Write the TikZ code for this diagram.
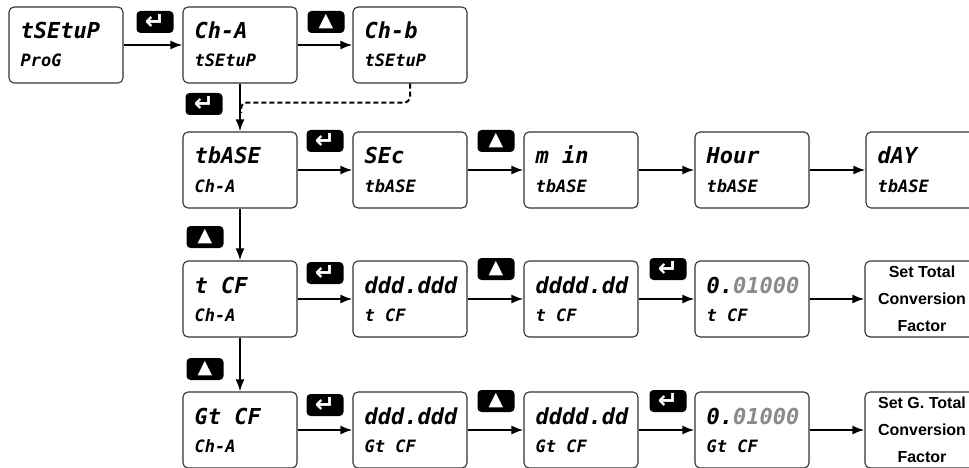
\documentclass[tikz,border=0pt]{standalone}
\usepackage{fontspec}
\usepackage{xcolor}
\usepackage{tikz}
\usetikzlibrary{arrows.meta}
\newfontfamily\segfont{DejaVu Sans Mono}
\newfontfamily\keyfont{DejaVu Sans}
\newfontfamily\plainfont{Liberation Sans}
\definecolor{dimseg}{HTML}{8A8A8A}
\definecolor{frame}{HTML}{333333}
\tikzset{
  disp/.style={draw=frame,line width=1.1pt,rounded corners=5pt,fill=white,
    minimum width=114pt,minimum height=76pt,inner sep=0pt},
  segbig/.style={font=\segfont\bfseries\itshape\fontsize{22}{22}\selectfont,inner sep=0pt},
  segsmall/.style={font=\segfont\bfseries\itshape\fontsize{17}{17}\selectfont,inner sep=0pt},
  keyb/.style={fill=black,text=white,rounded corners=4pt,minimum width=37pt,
    minimum height=22pt,inner sep=0pt},
  entersym/.style={font=\keyfont\bfseries\fontsize{24}{24}\selectfont},
  upsym/.style={font=\keyfont\fontsize{19}{19}\selectfont},
  flow/.style={line width=2pt,-{Latex[length=12pt,width=9pt]}},
  settext/.style={font=\plainfont\bfseries\fontsize{16}{27}\selectfont,align=center}
}
\newcommand{\dispbox}[5]{%
  \node[disp] (#1) at (#2,#3) {};
  \node[segbig,anchor=base west] (#1top) at ([xshift=12pt,yshift=6pt]#1.west) {#4};
  \node[segsmall,anchor=base west] (#1bot) at ([xshift=12pt,yshift=-22pt]#1.west) {#5};}
\newcommand{\enterkey}[3]{\node[keyb,entersym] (#1) at (#2,#3) {↵};}
\newcommand{\upkey}[3]{\node[keyb,upsym] (#1) at (#2,#3) {▲};}

\begin{document}
\begin{tikzpicture}[x=1pt,y=-1pt]
  \useasboundingbox (0,0) rectangle (969,468);
  % row 1
  \dispbox{prog}{66}{45}{tSEtuP}{ProG}
  \dispbox{cha}{240}{45}{Ch-A}{tSEtuP}
  \dispbox{chb}{410}{45}{Ch-b}{tSEtuP}
  \enterkey{ke1}{155}{22}\upkey{ku1}{326}{22}
  \draw[flow] (prog) -- (cha);
  \draw[flow] (cha) -- (chb);
  % row 2: time base
  \dispbox{tbase}{240}{170}{tbASE}{Ch-A}
  \dispbox{sec}{410}{170}{SEc}{tbASE}
  \dispbox{min}{581}{170}{m in}{tbASE}
  \dispbox{hour}{752}{170}{Hour}{tbASE}
  \dispbox{day}{923}{170}{dAY}{tbASE}
  \enterkey{ke2}{204}{104}
  \enterkey{ke3}{325}{141}\upkey{ku2}{496}{141}
  \draw[flow] (cha) -- (tbase);
  \coordinate (dashjoin) at (241,113);
  \draw[line width=2pt,dash pattern=on 5pt off 3pt,rounded corners=6pt]
    (chb.south) -- ++(0,19) -| (dashjoin);
  \draw[flow] (tbase) -- (sec);
  \draw[flow] (sec) -- (min);
  \draw[flow] (min) -- (hour);
  \draw[flow] (hour) -- (day);
  % row 3: total conversion factor
  \dispbox{tcf}{240}{299}{t CF}{Ch-A}
  \dispbox{tdd}{410}{299}{ddd.ddd}{t CF}
  \dispbox{tddb}{581}{299}{dddd.dd}{t CF}
  \dispbox{tval}{752}{299}{0.\textcolor{dimseg}{01000}}{t CF}
  \node[disp,settext] (tset) at (922,299) {Set Total\\Conversion\\Factor};
  \upkey{ku3}{205}{237}
  \enterkey{ke4}{325}{273}\upkey{ku4}{496}{269}\enterkey{ke5}{668}{269}
  \draw[flow] (tbase) -- (tcf);
  \draw[flow] (tcf) -- (tdd);
  \draw[flow] (tdd) -- (tddb);
  \draw[flow] (tddb) -- (tval);
  \draw[flow] (tval) -- (tset);
  % row 4: grand total conversion factor
  \dispbox{gcf}{240}{430}{Gt CF}{Ch-A}
  \dispbox{gdd}{410}{430}{ddd.ddd}{Gt CF}
  \dispbox{gddb}{581}{430}{dddd.dd}{Gt CF}
  \dispbox{gval}{752}{430}{0.\textcolor{dimseg}{01000}}{Gt CF}
  \node[disp,settext] (gset) at (922,430) {Set G. Total\\Conversion\\Factor};
  \upkey{ku5}{205}{369}
  \enterkey{ke6}{325}{405}\upkey{ku6}{496}{401}\enterkey{ke7}{668}{401}
  \draw[flow] (tcf) -- (gcf);
  \draw[flow] (gcf) -- (gdd);
  \draw[flow] (gdd) -- (gddb);
  \draw[flow] (gddb) -- (gval);
  \draw[flow] (gval) -- (gset);
\end{tikzpicture}
\end{document}
